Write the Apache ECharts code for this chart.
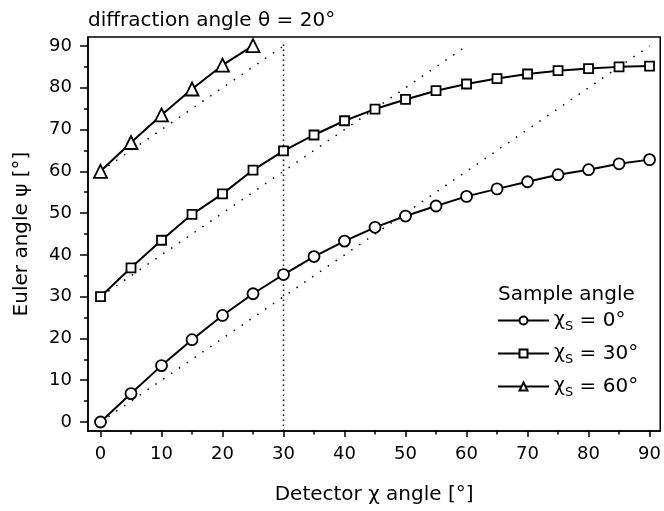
<!DOCTYPE html>
<html>
<head>
<meta charset="utf-8">
<script src="https://cdn.jsdelivr.net/npm/echarts@6/dist/echarts.min.js"></script>
<style>html,body{margin:0;padding:0;background:#fff}#c{width:664px;height:511px}</style>
</head>
<body>
<div id="c"></div>
<script>
// Data
const detectorChi = [0,5,10,15,20,25,30,35,40,45,50,55,60,65,70,75,80,85,90];
const psiChiS0 = [0,6.8,13.5,19.7,25.5,30.7,35.3,39.6,43.3,46.6,49.3,51.7,54.0,55.8,57.5,59.2,60.4,61.8,62.8];
const psiChiS30 = [30,36.9,43.5,49.7,54.6,60.3,64.9,68.7,72.1,74.9,77.2,79.3,80.9,82.2,83.3,84.1,84.6,85.0,85.2];
const detectorChi60 = [0,5,10,15,20,25];
const psiChiS60 = [60,66.9,73.5,79.7,85.4,90.1];
// Reference (dotted) lines psi = chi + chiS
const refLine0 = [[0,0],[90,90]];
const refLine30 = [[0,30],[60,90]];
const refLine60 = [[0,60],[30,90]];
const markerChi = [[30,-2.15],[30,91]];
const majorTicks = [0,10,20,30,40,50,60,70,80,90];
const minorTicks = [5,15,25,35,45,55,65,75,85];
const seriesNames = ['χS = 0°','χS = 30°','χS = 60°'];

const FONT = '"DejaVu Sans", sans-serif';
const chart = echarts.init(document.getElementById('c'), null, {renderer:'canvas'});

function pairs(xs, ys){ return xs.map((x,i)=>[x, ys[i]]); }

const dataSeries = (name, xs, ys, symbol, size) => ({
  name: name, type: 'line', data: pairs(xs, ys), xAxisIndex: 0, yAxisIndex: 0,
  symbol: symbol, symbolSize: size, showSymbol: true,
  lineStyle: {color:'#000', width: 2},
  itemStyle: {color:'#fff', borderColor:'#000', borderWidth: 1.8},
  z: 5, animation: false
});
const dotted = (d, dash) => ({
  type: 'line', data: d, symbol: 'none', xAxisIndex: 0, yAxisIndex: 0,
  lineStyle: {color:'#000', width: 1.5, type: dash}, z: 2, silent: true, animation: false
});

const xBase = {type:'value', min:-2.05, max:91.75, gridIndex:0, splitLine:{show:false}};
const yBase = {type:'value', min:-2.15, max:92.15, gridIndex:0, splitLine:{show:false}};

chart.setOption({
  backgroundColor: '#fff',
  animation: false,
  textStyle: {fontFamily: FONT},
  title: [
    {text: 'diffraction angle θ = 20°', left: 83, top: 6,
     textStyle: {fontFamily: FONT, fontSize: 20, fontWeight: 'normal', color:'#000'}},
    {text: 'Sample angle', left: 493, top: 280,
     textStyle: {fontFamily: FONT, fontSize: 20, fontWeight: 'normal', color:'#000'}}
  ],
  grid: {left: 88, top: 37, right: 1, bottom: 80, show: true, borderColor:'#000', borderWidth: 1.5, backgroundColor:'transparent'},
  legend: {
    data: seriesNames, orient: 'vertical', left: 492, top: 303,
    itemWidth: 51, itemHeight: 10, itemGap: 8,
    formatter: function(n){ const v = n.split('= ')[1]; return '{g|χ}{s|S}{t| = ' + v + '}'; },
    textStyle: {
      color:'#000', fontFamily: FONT, fontSize: 20,
      rich: {
        g: {fontFamily: FONT, fontSize: 19, color:'#000', lineHeight: 22},
        s: {fontFamily: FONT, fontSize: 13, color:'#000', lineHeight: 22, padding:[12,0,0,0]},
        t: {fontFamily: FONT, fontSize: 20, color:'#000', lineHeight: 22}
      }
    }
  },
  xAxis: [
    Object.assign({}, xBase, {
      position:'bottom',
      name: 'Detector χ angle [°]', nameLocation:'middle', nameGap: 54,
      nameTextStyle:{fontFamily: FONT, fontSize: 20, color:'#000'},
      axisLine:{show:true, onZero:false, lineStyle:{color:'#000', width:1.5}},
      axisTick:{show:true, inside:false, length:6, customValues: majorTicks, lineStyle:{color:'#000', width:1.5}},
      axisLabel:{show:true, customValues: majorTicks, margin: 14, fontFamily: FONT, fontSize: 18, color:'#000'}
    }),
    Object.assign({}, xBase, {
      position:'bottom', offset: 0,
      axisLine:{show:false, onZero:false},
      axisTick:{show:true, inside:false, length:3.5, customValues: minorTicks, lineStyle:{color:'#000', width:1.5}},
      axisLabel:{show:false}
    })
  ],
  yAxis: [
    Object.assign({}, yBase, {
      position:'left',
      name: 'Euler angle ψ [°]', nameLocation:'middle', nameGap: 56, nameRotate: 90,
      nameTextStyle:{fontFamily: FONT, fontSize: 20, color:'#000'},
      axisLine:{show:true, onZero:false, lineStyle:{color:'#000', width:1.5}},
      axisTick:{show:true, inside:false, length:8, customValues: majorTicks, lineStyle:{color:'#000', width:1.5}},
      axisLabel:{show:true, customValues: majorTicks, margin: 16, fontFamily: FONT, fontSize: 18, color:'#000'}
    }),
    Object.assign({}, yBase, {
      position:'left', offset: 0,
      axisLine:{show:false, onZero:false},
      axisTick:{show:true, inside:false, length:4, customValues: minorTicks, lineStyle:{color:'#000', width:1.5}},
      axisLabel:{show:false}
    })
  ],
  series: [
    dotted(refLine0, [1.5, 8]),
    dotted(refLine30, [1.5, 8]),
    dotted(refLine60, [1.5, 8]),
    dotted(markerChi, [1.5, 3.5]),
    dataSeries(seriesNames[0], detectorChi, psiChiS0, 'circle', 11),
    dataSeries(seriesNames[1], detectorChi, psiChiS30, 'rect', 9),
    dataSeries(seriesNames[2], detectorChi60, psiChiS60, 'triangle', 13)
  ]
});
</script>
</body>
</html>
